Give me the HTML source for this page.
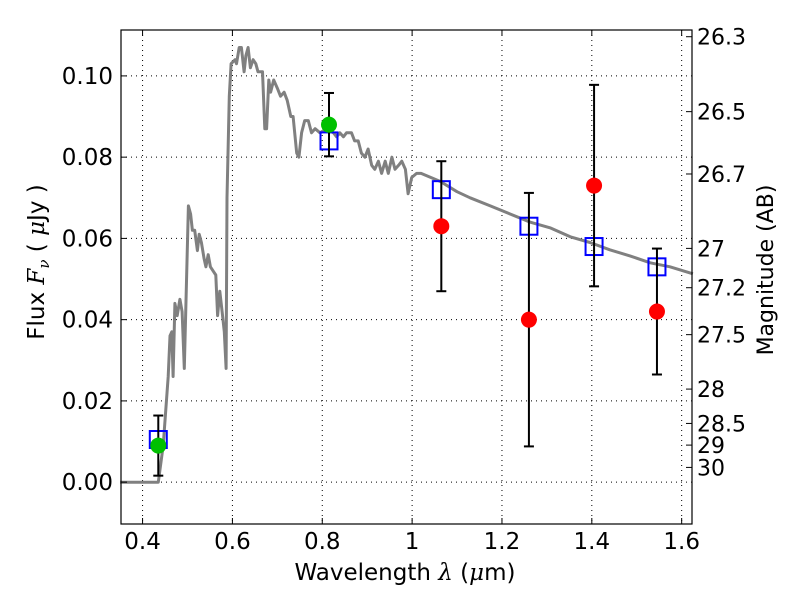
<!DOCTYPE html>
<html><head><meta charset="utf-8"><style>
body{margin:0;background:#fff}
svg{display:block;font-family:"DejaVu Sans","Liberation Sans",sans-serif}
</style></head><body>
<svg id="chart" width="800" height="600">
<rect width="800" height="600" fill="#fff"/>
<g id="grid"></g>
<g id="series"></g>
<rect x="121" y="30" width="571" height="494" fill="none" stroke="#000" stroke-width="1.2"/>
<g id="axes"></g>
<text x="405" y="580" font-size="23" text-anchor="middle">Wavelength  <tspan font-family="DejaVu Serif" font-style="italic">λ</tspan> (<tspan font-family="DejaVu Serif" font-style="italic">μ</tspan>m)</text>
<text transform="translate(44,262) rotate(-90)" font-size="23" text-anchor="middle">Flux  <tspan font-family="DejaVu Serif" font-style="italic">F</tspan><tspan font-family="DejaVu Serif" font-style="italic" font-size="15" dy="5">ν</tspan><tspan dy="-5">  ( </tspan><tspan font-family="DejaVu Serif" font-style="italic">μ</tspan>Jy )</text>
<text transform="translate(773,270) rotate(-90)" font-size="22" text-anchor="middle">Magnitude (AB)</text>
</svg>
<script>
const xTicks=[0.4,0.6,0.8,1.0,1.2,1.4,1.6];
const xTickLabels=["0.4","0.6","0.8","1","1.2","1.4","1.6"];
const yTicks=[0,0.02,0.04,0.06,0.08,0.10];
const yTickLabels=["0.00","0.02","0.04","0.06","0.08","0.10"];
const magTicks=[26.3,26.5,26.7,27,27.2,27.5,28,28.5,29,30];
const specLam=[0.35,0.435,0.446,0.457,0.461,0.465,0.468,0.472,0.477,0.483,0.488,0.493,0.502,0.507,0.511,0.516,0.522,0.526,0.531,0.537,0.541,0.546,0.551,0.557,0.563,0.567,0.572,0.577,0.582,0.586,0.588,0.593,0.597,0.606,0.609,0.615,0.62,0.626,0.63,0.635,0.64,0.646,0.652,0.657,0.667,0.672,0.676,0.681,0.685,0.692,0.7,0.707,0.715,0.722,0.73,0.735,0.743,0.748,0.754,0.761,0.769,0.776,0.784,0.795,0.81,0.825,0.832,0.839,0.847,0.854,0.865,0.872,0.88,0.887,0.895,0.902,0.91,0.917,0.925,0.932,0.94,0.947,0.955,0.962,0.97,0.977,0.985,0.991,0.999,1.01,1.02,1.063,1.1,1.129,1.174,1.218,1.263,1.307,1.352,1.396,1.44,1.485,1.53,1.574,1.625];
const specFlux=[0,0,0.009,0.026,0.036,0.037,0.026,0.044,0.041,0.045,0.042,0.028,0.068,0.066,0.062,0.062,0.057,0.061,0.059,0.055,0.053,0.056,0.053,0.052,0.051,0.041,0.047,0.042,0.037,0.028,0.070,0.095,0.103,0.104,0.103,0.107,0.107,0.101,0.105,0.107,0.102,0.104,0.103,0.101,0.101,0.087,0.087,0.099,0.096,0.099,0.097,0.095,0.096,0.094,0.090,0.090,0.081,0.080,0.086,0.089,0.089,0.086,0.087,0.086,0.087,0.086,0.085,0.086,0.085,0.086,0.086,0.084,0.084,0.081,0.080,0.082,0.078,0.077,0.079,0.076,0.079,0.076,0.080,0.077,0.078,0.079,0.077,0.071,0.075,0.076,0.076,0.074,0.0715,0.070,0.068,0.066,0.064,0.0626,0.0604,0.059,0.0572,0.0557,0.054,0.053,0.0513];
const modelLam=[0.435,0.815,1.065,1.26,1.405,1.545];
const modelFlux=[0.0105,0.084,0.072,0.063,0.058,0.053];
const detLam=[0.435,0.815];
const detFlux=[0.009,0.088];
const detErr=[0.0074,0.0078];
const ndLam=[1.065,1.26,1.405,1.545];
const ndFlux=[0.063,0.040,0.073,0.042];
const ndErr=[0.016,0.0312,0.0248,0.0155];

const X0=121,X1=692,Y0=524,Y1=30,LMIN=0.352,LMAX=1.623,FMIN=-0.0103,FMAX=0.1113;
const sx=v=>X0+(v-LMIN)/(LMAX-LMIN)*(X1-X0);
const sy=v=>Y0-(v-FMIN)/(FMAX-FMIN)*(Y0-Y1);
const NS="http://www.w3.org/2000/svg";
function mk(tag,parent,attrs){const e=document.createElementNS(NS,tag);for(const k in attrs)e.setAttribute(k,attrs[k]);parent.appendChild(e);return e;}
const grid=document.getElementById('grid'),axes=document.getElementById('axes'),ser=document.getElementById('series');
xTicks.forEach((t,i)=>{const x=sx(t);
 let g=mk('line',grid,{x1:x,x2:x,y1:Y1,y2:Y0,stroke:'#000','stroke-width':1,'stroke-dasharray':'1,4'});
 
 let tk=mk('line',axes,{x1:x,x2:x,y1:Y0,y2:Y0-6,stroke:'#000'});
 
 let tk2=mk('line',axes,{x1:x,x2:x,y1:Y1,y2:Y1+6,stroke:'#000'});
 
 let tx=mk('text',axes,{x:x,y:Y0+25,'font-size':23,'text-anchor':'middle'});tx.textContent=xTickLabels[i];
 });
yTicks.forEach((t,i)=>{const y=sy(t);
 let g=mk('line',grid,{x1:X0,x2:X1,y1:y,y2:y,stroke:'#000','stroke-width':1,'stroke-dasharray':'1,4'});
 
 let tk=mk('line',axes,{x1:X0,x2:X0+6,y1:y,y2:y,stroke:'#000'});
 
 let tx=mk('text',axes,{x:X0-8,y:y+8,'font-size':23,'text-anchor':'end'});tx.textContent=yTickLabels[i];
 });
magTicks.forEach(m=>{const f=Math.pow(10,-0.4*(m-23.9));const y=sy(f);
 let tk=mk('line',axes,{x1:X1,x2:X1-6,y1:y,y2:y,stroke:'#000'});
 
 let tx=mk('text',axes,{x:X1+5,y:y+8,'font-size':22});tx.textContent=String(m);
 });
let d=specLam.map((l,i)=>(i?'L':'M')+sx(l).toFixed(1)+','+sy(specFlux[i]).toFixed(1)).join('');
let sp=mk('path',ser,{d:d,fill:'none',stroke:'#808080','stroke-width':3,'stroke-linejoin':'round'});

function errbar(l,f,e){const x=sx(l),a=sy(f-e),b=sy(f+e);
 let g=mk('g',ser,{});
 mk('line',g,{x1:x,x2:x,y1:a,y2:b,stroke:'#000','stroke-width':2});
 mk('line',g,{x1:x-5,x2:x+5,y1:a,y2:a,stroke:'#000','stroke-width':2});
 mk('line',g,{x1:x-5,x2:x+5,y1:b,y2:b,stroke:'#000','stroke-width':2});}
modelLam.forEach((l,i)=>{let r=mk('rect',ser,{x:sx(l)-8.5,y:sy(modelFlux[i])-8.5,width:17,height:17,fill:'none',stroke:'#0000ff','stroke-width':2});
 });
detLam.forEach((l,i)=>{errbar(l,detFlux[i],detErr[i]);
 let c=mk('circle',ser,{cx:sx(l),cy:sy(detFlux[i]),r:8,fill:'#00c000'});
 });
ndLam.forEach((l,i)=>{errbar(l,ndFlux[i],ndErr[i]);
 let c=mk('circle',ser,{cx:sx(l),cy:sy(ndFlux[i]),r:8,fill:'#ff0000'});
 });
</script>
</body></html>
